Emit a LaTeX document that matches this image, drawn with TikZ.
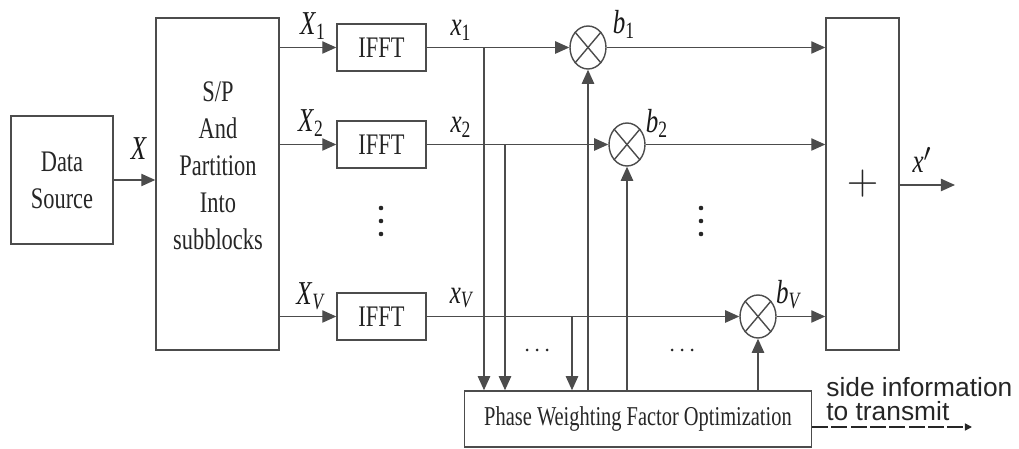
\documentclass[tikz,border=0pt]{standalone}
\usepackage{fontspec}
\setmainfont{Liberation Serif}[FakeStretch=0.75]
\newfontfamily\sidefont{Liberation Sans}
\usetikzlibrary{positioning,shapes.geometric,arrows.meta}

\begin{document}
\begin{tikzpicture}[x=0.02cm,y=-0.02cm,>={Triangle[length=8pt,width=7pt]},
  blok/.style={draw=black!70,line width=0.8pt,font=\fontsize{17}{21}\selectfont,
    align=center,inner sep=0pt,text=black!85},
  mult/.style={draw=black!70,line width=0.8pt,ellipse,minimum width=0.72cm,
    minimum height=0.86cm,inner sep=0pt},
  sig/.style={font=\fontsize{19}{21}\selectfont,text=black!90,inner sep=0pt},
  wire/.style={draw=black!70,line width=0.8pt,->}]
  \useasboundingbox (0,0) rectangle (1019,449);
  % bloky vlevo
  \node[blok,minimum width=2.04cm,minimum height=2.56cm] (src) at (62,180) {Data\\Source};
  \node[blok,minimum width=2.46cm,minimum height=6.64cm] (sp) at (217.5,184) {};
  \node[blok,draw=none] (sptxt) at (218,166) {S/P\\And\\Partition\\Into\\subblocks};
  % IFFT vetve
  \foreach \n/\y in {1/47.5,2/144.5,V/316.5}
    \node[blok,minimum width=1.78cm,minimum height=0.94cm] (f\n) at (381.5,\y) {IFFT};
  % nasobicky
  \node[mult] (m1) at (588,47.5) {};
  \node[mult] (m2) at (627,144.5) {};
  \node[mult] (mV) at (758,316.5) {};
  \foreach \m in {m1,m2,mV}{
    \draw[black!70,line width=0.8pt] (\m.north west) -- (\m.south east);
    \draw[black!70,line width=0.8pt] (\m.north east) -- (\m.south west);
  }
  % soucet a optimalizace
  \node[blok,minimum width=1.46cm,minimum height=6.64cm,font=\fontsize{26}{26}\selectfont] (sum) at (862.5,184) {$+$};
  \node[blok,minimum width=6.94cm,minimum height=1.12cm,font=\fontsize{15.5}{18}\selectfont] (ph) at (638,419) {Phase Weighting Factor Optimization};
  % spoje
  \draw[wire] (src) -- (src -| sp.west);
  \foreach \n in {1,2,V}{
    \draw[wire] (sp.east |- f\n) -- (f\n);
    \draw[wire] (f\n) -- (m\n);
    \draw[wire] (m\n) -- (m\n -| sum.west);
    \draw[wire] (m\n |- ph.north) -- (m\n);
  }
  % odbocky do optimalizace
  \coordinate (t1) at (484,47.5);
  \coordinate (t2) at (505,144.5);
  \coordinate (tV) at (572,316.5);
  \foreach \t in {t1,t2,tV}
    \draw[wire] (\t) -- (\t |- ph.north);
  % vystup
  \coordinate (xo) at (955,185);
  \draw[wire] (sum.east |- xo) -- (xo);
  \coordinate (se) at (972,427);
  \draw[draw=black!85,line width=0.8pt,dash pattern=on 9pt off 2pt,-{Triangle[length=4pt,width=4pt]}] (ph.east |- se) -- (se);
  % popisky
  \node[sig] (lX) at (139,149) {\textit{X}};
  \node[sig] (lX1) at (313,26) {\textit{X}\textsubscript{1}};
  \node[sig] (lX2) at (311,123) {\textit{X}\textsubscript{2}};
  \node[sig] (lXV) at (311,296) {\textit{X}\textsubscript{\textit{V}}};
  \node[sig] (lx1) at (461,30) {\textit{x}\textsubscript{1}};
  \node[sig] (lx2) at (461,127) {\textit{x}\textsubscript{2}};
  \node[sig] (lxV) at (462,298) {\textit{x}\textsubscript{\textit{V}}};
  \node[sig] (lb1) at (624,24) {\textit{b}\textsubscript{1}};
  \node[sig] (lb2) at (657,123) {\textit{b}\textsubscript{2}};
  \node[sig] (lbV) at (789,295) {\textit{b}\textsubscript{\textit{V}}};
  \node[sig] (lxo) at (922,160) {\textit{x}$'$};
  % tecky
  \foreach \x in {381,701}
    \foreach \y in {208,221,234}
      \fill[black!85] (\x,\y) circle (2.3);
  \foreach \x in {527,537,547,672,682,692}
    \fill[black!85] (\x,350) circle (1.5);
  \node[font=\sidefont\fontsize{15}{14}\selectfont,align=left,anchor=west,inner sep=0pt,text=black!85] (side) at (826,399) {side information\\to transmit};
\end{tikzpicture}
\end{document}
